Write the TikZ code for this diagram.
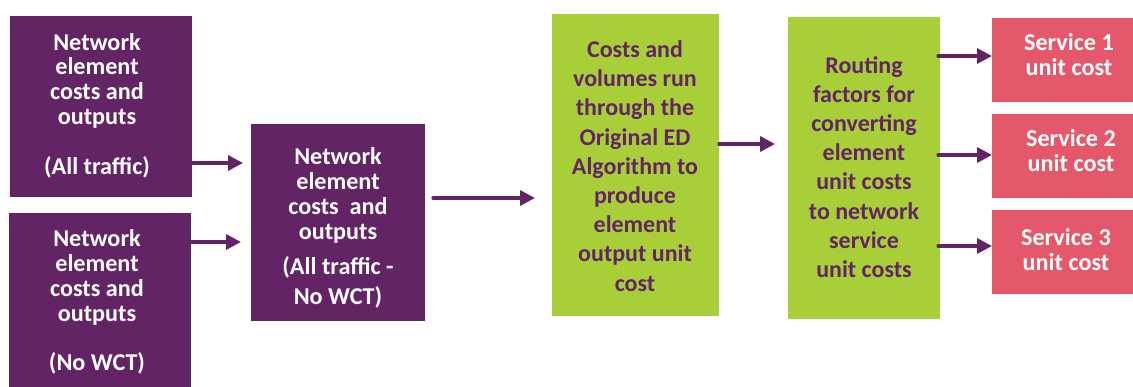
\documentclass[tikz,border=0pt]{standalone}
\usepackage{fontspec}
\setmainfont{Carlito}
\usetikzlibrary{arrows.meta}
\definecolor{ppl}{RGB}{99,36,102}
\definecolor{grn}{RGB}{169,207,56}
\definecolor{rd}{RGB}{229,87,106}
\begin{document}
\begin{tikzpicture}[x=1pt,y=1pt,
  box/.style={anchor=north west, inner sep=0pt, outer sep=0pt},
  pbox/.style={box, fill=ppl},
  gbox/.style={box, fill=grn},
  rbox/.style={box, fill=rd, minimum width=141pt, minimum height=84pt},
  ptxt/.style={align=center, inner sep=0pt, text=white, font=\bfseries\fontsize{24.2}{24.8}\selectfont},
  gtxt/.style={align=center, inner sep=0pt, text=ppl, font=\bfseries\fontsize{24}{29.2}\selectfont},
  rtxt/.style={align=center, inner sep=0pt, text=white, font=\bfseries\fontsize{24.2}{25}\selectfont},
  arr/.style={draw=ppl, line width=3.3pt, line cap=round, -{Triangle[length=15pt,width=15pt]}}]
\useasboundingbox (0,0) rectangle (1133,-387);
% boxes
\node[pbox, minimum width=182pt, minimum height=181pt] (a1) at (10,-16) {};
\node[pbox, minimum width=182pt, minimum height=174pt] (a2) at (9,-213) {};
\node[pbox, minimum width=174pt, minimum height=197pt] (b) at (251,-124) {};
\node[gbox, minimum width=167pt, minimum height=302pt] (c) at (552,-14) {};
\node[gbox, minimum width=152pt, minimum height=302pt] (d) at (788,-17) {};
\node[rbox] (s1) at (992,-18) {};
\node[rbox] (s2) at (992,-114) {};
\node[rbox] (s3) at (992,-210) {};
% texts
\node[ptxt] (a1t) at (97,-105.5) {Network\\element\\costs and\\outputs\\[24.8pt](All traffic)};
\node[ptxt] (a2t) at (97,-302) {Network\\element\\costs and\\outputs\\[24.8pt](No WCT)};
\node[ptxt] (bt) at (338,-228) {Network\\element\\costs~ and\\outputs\\[11pt](All traffic -\\[5pt]No WCT)};
\node[gtxt] (ct) at (635,-166) {Costs and\\volumes run\\through the\\Original ED\\Algorithm to\\produce\\element\\output unit\\cost};
\node[gtxt] (dt) at (864,-167) {Routing\\factors for\\converting\\element\\unit costs\\to network\\service\\unit costs};
\node[rtxt] (s1t) at (1069,-54.5) {Service 1\\unit cost};
\node[rtxt] (s2t) at (1071,-150.5) {Service 2\\unit cost};
\node[rtxt] (s3t) at (1066,-249.5) {Service 3\\unit cost};
% arrow levels
\coordinate (y1) at (0,-163);
\coordinate (y2) at (0,-242);
\coordinate (y3) at (0,-198);
\coordinate (y4) at (0,-144);
\coordinate (y5) at (0,-56);
\coordinate (y6) at (0,-155);
\coordinate (y7) at (0,-246);
% connectors
\draw[arr, shorten >=8pt] (a1.east |- y1) -- (b.west |- y1);
\draw[arr, shorten >=10pt] (a2.east |- y2) -- (b.west |- y2);
\draw[arr, shorten <=8pt, shorten >=17pt] (b.east |- y3) -- (c.west |- y3);
\draw[arr, shorten >=13pt] (c.east |- y4) -- (d.west |- y4);
\draw[arr, shorten <=-2pt] (d.east |- y5) -- (s1.west |- y5);
\draw[arr, shorten <=-2pt] (d.east |- y6) -- (s2.west |- y6);
\draw[arr, shorten <=-2pt] (d.east |- y7) -- (s3.west |- y7);
\end{tikzpicture}
\end{document}
